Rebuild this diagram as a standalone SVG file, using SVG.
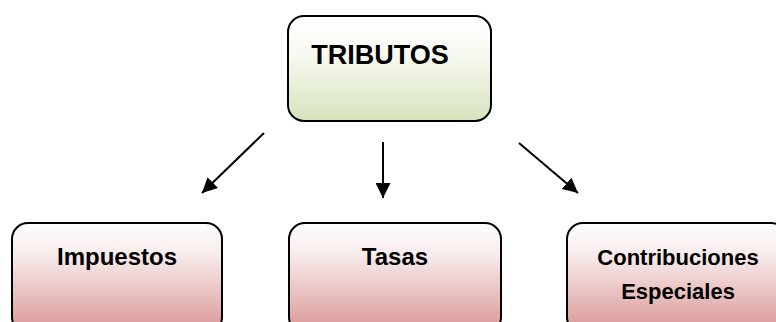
<svg xmlns="http://www.w3.org/2000/svg" width="776" height="322" viewBox="0 0 776 322">
<defs>
<linearGradient id="gGreen" x1="0" y1="0" x2="0" y2="1">
<stop offset="0" stop-color="#ffffff"/>
<stop offset="0.35" stop-color="#f8faf2"/>
<stop offset="1" stop-color="#d6e3bc"/>
</linearGradient>
<linearGradient id="gRed" x1="0" y1="0" x2="0" y2="1">
<stop offset="0" stop-color="#ffffff"/>
<stop offset="0.3" stop-color="#f7eaea"/>
<stop offset="1" stop-color="#d99594"/>
</linearGradient>
<marker id="ah" viewBox="0 0 10 10" refX="10" refY="5" markerWidth="7.5" markerHeight="7.5" orient="auto" markerUnits="strokeWidth">
<path d="M0,0 L10,5 L0,10 Z" fill="#000"/>
</marker>
</defs>
<style>
.box{stroke:#000;stroke-width:2}
.lbl{font-family:"Liberation Sans",Arial,sans-serif;font-weight:bold;fill:#000;text-anchor:middle}
.con{stroke:#000;stroke-width:2;fill:none;marker-end:url(#ah)}
</style>
<rect width="776" height="322" fill="#fff"/>
<g id="tributos">
<rect class="box" x="288" y="16" width="203" height="105" rx="16" fill="url(#gGreen)"/>
<text class="lbl" x="380" y="64" font-size="27">TRIBUTOS</text>
</g>
<g id="impuestos">
<rect class="box" x="12" y="223" width="210" height="110" rx="16" fill="url(#gRed)"/>
<text class="lbl" x="117" y="265" font-size="24">Impuestos</text>
</g>
<g id="tasas">
<rect class="box" x="289" y="223" width="212" height="110" rx="16" fill="url(#gRed)"/>
<text class="lbl" x="395" y="265" font-size="24">Tasas</text>
</g>
<g id="contribuciones">
<rect class="box" x="567" y="223" width="220" height="110" rx="16" fill="url(#gRed)"/>
<text class="lbl" x="678" y="265" font-size="22">Contribuciones</text>
<text class="lbl" x="678" y="299" font-size="22">Especiales</text>
</g>
<g id="connectors">
<line class="con" x1="264" y1="133" x2="202" y2="193"/>
<line class="con" x1="383" y1="142" x2="383" y2="198"/>
<line class="con" x1="519" y1="143" x2="578" y2="193"/>
</g>
</svg>
